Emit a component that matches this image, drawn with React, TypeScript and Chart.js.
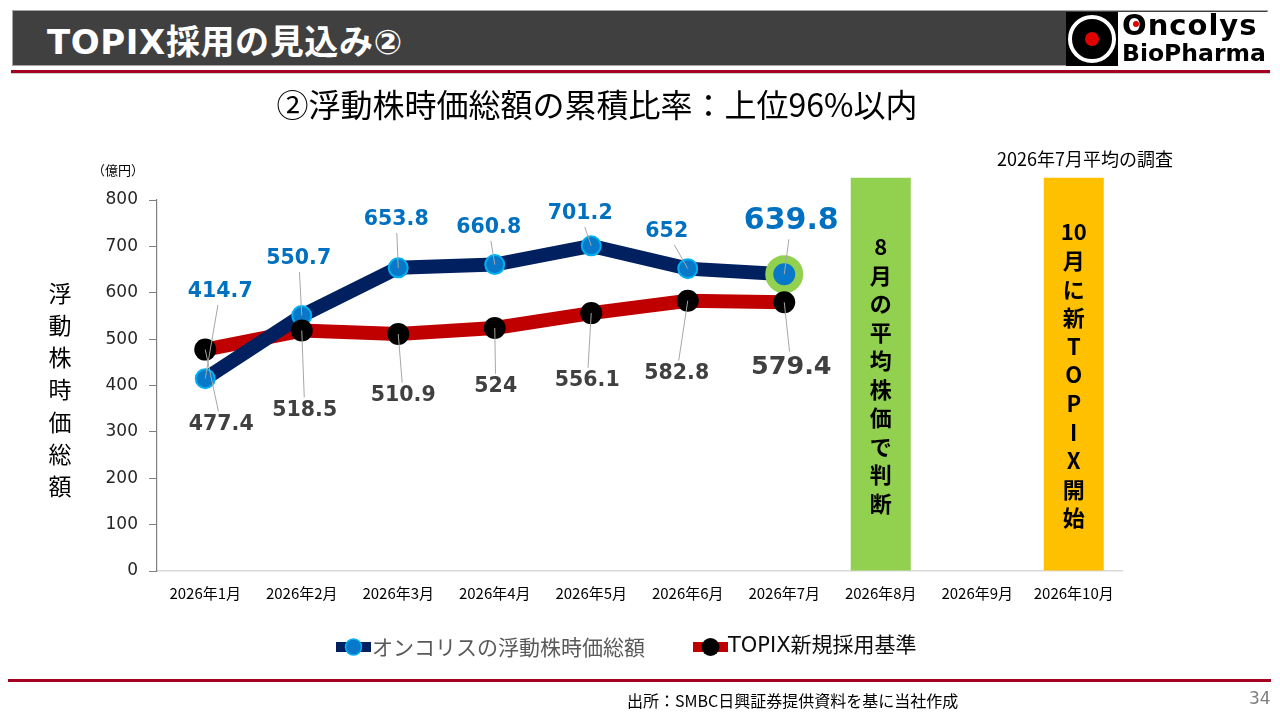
import React, { useEffect, useRef } from 'react';
import { Chart, registerables } from 'chart.js';

Chart.register(...registerables);

const months = [
  '2026年1月', '2026年2月', '2026年3月', '2026年4月', '2026年5月',
  '2026年6月', '2026年7月', '2026年8月', '2026年9月', '2026年10月',
];
const oncolysCap = [414.7, 550.7, 653.8, 660.8, 701.2, 652, 639.8];
const topixLine = [477.4, 518.5, 510.9, 524, 556.1, 582.8, 579.4];
const seriesNames = ['オンコリスの浮動株時価総額', 'TOPIX新規採用基準'];
// period markers (Aug: judgement month, Oct: new TOPIX start)
const periodBars = [null, null, null, null, null, null, null, 848, null, 848];
const periodColors = ['', '', '', '', '', '', '', '#92D050', '', '#FFC000'];
const augNote = ['8', '月', 'の', '平', '均', '株', '価', 'で', '判', '断'];
const octNote = ['10', '月', 'に', '新', 'T', 'O', 'P', 'I', 'X', '開', '始'];
const yTitle = ['浮', '動', '株', '時', '価', '総', '額'];

// label offsets from the point (px)
const oncolysLabelPos = [[15, -87], [-3, -57], [-2, -48], [-6, -37], [-11, -32], [-21, -37], [7, -53]];
const topixLabelPos = [[16, 75], [3, 80], [5, 62], [1, 59], [-4, 68], [-11, 73], [7, 65]];

const NUM_FONT = '"DejaVu Sans", "Noto Sans CJK JP", sans-serif';
const JP_FONT = '"Noto Sans CJK JP", "Noto Sans", sans-serif';

function drawLabel(ctx: CanvasRenderingContext2D, px: number, py: number, text: string,
  off: number[], size: number, color: string) {
  const cx = px + off[0];
  const cy = py + off[1];
  ctx.font = `bold ${size}px ${NUM_FONT}`;
  const w = ctx.measureText(text).width / 2 + 3;
  const h = size * 0.5 + 3;
  const dx = px - cx;
  const dy = py - cy;
  const t = Math.min(dx ? w / Math.abs(dx) : 99, dy ? h / Math.abs(dy) : 99);
  if (t < 1) {
    ctx.save();
    ctx.strokeStyle = '#a6a6a6';
    ctx.lineWidth = 1;
    ctx.beginPath();
    ctx.moveTo(cx + dx * t, cy + dy * t);
    ctx.lineTo(px, py);
    ctx.stroke();
    ctx.restore();
  }
  ctx.fillStyle = color;
  ctx.textAlign = 'center';
  ctx.textBaseline = 'middle';
  ctx.fillText(text, cx, cy);
}

const decorPlugin = {
  id: 'decor',
  afterDatasetsDraw(chart: any) {
    const ctx: CanvasRenderingContext2D = chart.ctx;
    ctx.save();
    const blue = chart.getDatasetMeta(2).data;
    const red = chart.getDatasetMeta(3).data;
    oncolysCap.forEach((v, i) => {
      const last = i === oncolysCap.length - 1;
      drawLabel(ctx, blue[i].x, blue[i].y, String(v), oncolysLabelPos[i], last ? 30 : 20.5, '#0070C0');
    });
    topixLine.forEach((v, i) => {
      const last = i === topixLine.length - 1;
      drawLabel(ctx, red[i].x, red[i].y, String(v), topixLabelPos[i], last ? 25.5 : 20.5, '#404040');
    });

    // vertical notes in the period bars
    const bars = chart.getDatasetMeta(0).data;
    ctx.fillStyle = '#000';
    ctx.textAlign = 'center';
    ctx.textBaseline = 'middle';
    ctx.font = `bold 22px ${JP_FONT}`;
    augNote.forEach((c, i) => ctx.fillText(c, bars[7].x, 247 + i * 28.5));
    octNote.forEach((c, i) => ctx.fillText(c, bars[9].x, 232 + i * 28.6));

    // y axis title
    ctx.font = `23px ${JP_FONT}`;
    yTitle.forEach((c, i) => ctx.fillText(c, 60, 293 + i * 32.2));
    ctx.restore();
  },
  afterDraw(chart: any) {
    const ctx: CanvasRenderingContext2D = chart.ctx;
    const y = 647;
    ctx.save();
    ctx.textBaseline = 'middle';
    ctx.textAlign = 'left';
    ctx.font = `21px ${JP_FONT}`;
    // item 1
    ctx.fillStyle = '#002060';
    ctx.fillRect(336, y - 5, 35, 10);
    ctx.beginPath();
    ctx.arc(353.5, y, 8, 0, Math.PI * 2);
    ctx.fillStyle = '#0a78c8';
    ctx.fill();
    ctx.strokeStyle = '#00B0F0';
    ctx.lineWidth = 1.5;
    ctx.stroke();
    ctx.fillStyle = '#595959';
    ctx.fillText(seriesNames[0], 372, y);
    // item 2
    ctx.fillStyle = '#C00000';
    ctx.fillRect(693, y - 5, 35, 10);
    ctx.beginPath();
    ctx.arc(710.5, y, 9, 0, Math.PI * 2);
    ctx.fillStyle = '#000';
    ctx.fill();
    ctx.fillStyle = '#0d0d0d';
    ctx.font = `21px ${NUM_FONT}`;
    ctx.fillText(seriesNames[1], 728, y);
    ctx.restore();
  },
};

function TopixChart() {
  const canvasRef = useRef<HTMLCanvasElement>(null);
  const chartRef = useRef<Chart | null>(null);

  useEffect(() => {
    if (!canvasRef.current) return;
    if (chartRef.current) chartRef.current.destroy();
    const ctx = canvasRef.current.getContext('2d');
    if (!ctx) return;

    const n = oncolysCap.length;
    chartRef.current = new Chart(ctx, {
      type: 'line',
      data: {
        labels: months,
        datasets: [
          {
            type: 'bar',
            data: periodBars,
            backgroundColor: periodColors,
            barPercentage: 0.622,
            categoryPercentage: 1,
            clip: false,
            order: 10,
          } as any,
          {
            data: topixLine,
            borderColor: '#C00000',
            borderWidth: 14,
            pointRadius: 0,
            order: 4,
          },
          {
            data: oncolysCap,
            borderColor: '#002060',
            borderWidth: 14,
            pointRadius: oncolysCap.map((_, i) => (i === n - 1 ? 15 : 9.5)),
            pointBackgroundColor: '#0a78c8',
            pointBorderColor: oncolysCap.map((_, i) => (i === n - 1 ? '#92D050' : '#00B0F0')),
            pointBorderWidth: oncolysCap.map((_, i) => (i === n - 1 ? 8 : 2)),
            order: 3,
          },
          {
            data: topixLine,
            showLine: false,
            pointRadius: 11,
            pointBackgroundColor: '#000',
            pointBorderWidth: 0,
            order: 2,
          },
        ],
      },
      options: {
        responsive: false,
        animation: false,
        layout: { padding: { top: 200, right: 158, left: 0, bottom: 0 } },
        plugins: { legend: { display: false }, tooltip: { enabled: false } },
        scales: {
          x: {
            offset: true,
            grid: { display: false, drawTicks: false },
            border: { display: true, color: '#d9d9d9', width: 1.5 },
            ticks: { color: '#000', padding: 13, font: { family: JP_FONT, size: 15 }, maxRotation: 0 },
            afterFit: (s: any) => { s.height = 149; },
          },
          y: {
            min: 0,
            max: 800,
            ticks: { stepSize: 100, color: '#262626', padding: 11, font: { family: NUM_FONT, size: 17 } },
            grid: { drawOnChartArea: false, tickLength: 8, color: '#7f7f7f' },
            border: { color: '#7f7f7f', width: 1.2 },
            afterFit: (s: any) => { s.width = 157; },
          },
        },
      },
      plugins: [decorPlugin],
    });

    return () => {
      if (chartRef.current) {
        chartRef.current.destroy();
        chartRef.current = null;
      }
    };
  }, []);

  return <canvas ref={canvasRef} width={1280} height={720} style={{ position: 'absolute', left: 0, top: 0 }} />;
}

export default function App() {
  useEffect(() => {
    document.body.style.margin = '0';
  }, []);

  const abs = (s: React.CSSProperties): React.CSSProperties => ({ position: 'absolute', ...s });

  return (
    <div style={{ position: 'relative', width: 1280, height: 720, overflow: 'hidden', background: '#fff', fontFamily: JP_FONT }}>
      <TopixChart />
      {/* header */}
      <div style={abs({ left: 12, top: 10, width: 1256, height: 56, background: '#404040', boxSizing: 'border-box', border: '1px solid #a6a6a6' })} />
      <div style={abs({ left: 47, top: 18, color: '#fff', fontSize: 34, fontWeight: 'bold', lineHeight: '48px', fontFamily: NUM_FONT, letterSpacing: 0.6 })}>
        TOPIX採用の見込み②
      </div>
      <div style={abs({ left: 11, top: 70, width: 1259, height: 3, background: '#A50021' })} />
      <div style={abs({ left: 11, top: 73, width: 1259, height: 1, background: '#d0d0d0' })} />
      {/* logo */}
      <div style={abs({ left: 1066, top: 12, width: 202, height: 54, background: '#fff' })}>
        <div style={abs({ left: 0, top: 0, width: 52, height: 54, background: '#000' })}>
          <div style={abs({ left: 2, top: 3, width: 40, height: 40, borderRadius: '50%', border: '4px solid #fff', background: '#000' })} />
          <div style={abs({ left: 19, top: 20, width: 14, height: 14, borderRadius: '50%', background: '#e00000' })} />
        </div>
        <div style={abs({ left: 56, top: -5, fontSize: 29, fontWeight: 'bold', letterSpacing: 1, color: '#000', fontFamily: NUM_FONT, lineHeight: '36px' })}>Oncolys</div>
        <div style={abs({ left: 67, top: 9, width: 6, height: 6, borderRadius: '50%', background: '#e00000' })} />
        <div style={abs({ left: 56, top: 26, fontSize: 23.5, fontWeight: 'bold', color: '#000', fontFamily: NUM_FONT, lineHeight: '30px' })}>BioPharma</div>
      </div>
      {/* subtitle */}
      <div style={abs({ left: 0, width: 1194, top: 83, textAlign: 'center', fontSize: 32, color: '#000', lineHeight: '40px' })}>
        ②浮動株時価総額の累積比率：上位96%以内
      </div>
      <div style={abs({ left: 92, top: 160, fontSize: 13, color: '#000', lineHeight: '20px' })}>（億円）</div>
      <div style={abs({ left: 985, width: 200, top: 146, textAlign: 'center', fontSize: 18, color: '#000', lineHeight: '24px' })}>
        2026年7月平均の調査
      </div>
      {/* footer */}
      <div style={abs({ left: 8, top: 679, width: 1263, height: 3, background: '#A50021' })} />
      <div style={abs({ left: 627, top: 689, fontSize: 16, color: '#000', lineHeight: '22px' })}>
        出所：SMBC日興証券提供資料を基に当社作成
      </div>
      <div style={abs({ left: 1249, top: 687, fontSize: 17, color: '#7f7f7f', lineHeight: '22px', fontFamily: NUM_FONT })}>34</div>
    </div>
  );
}
